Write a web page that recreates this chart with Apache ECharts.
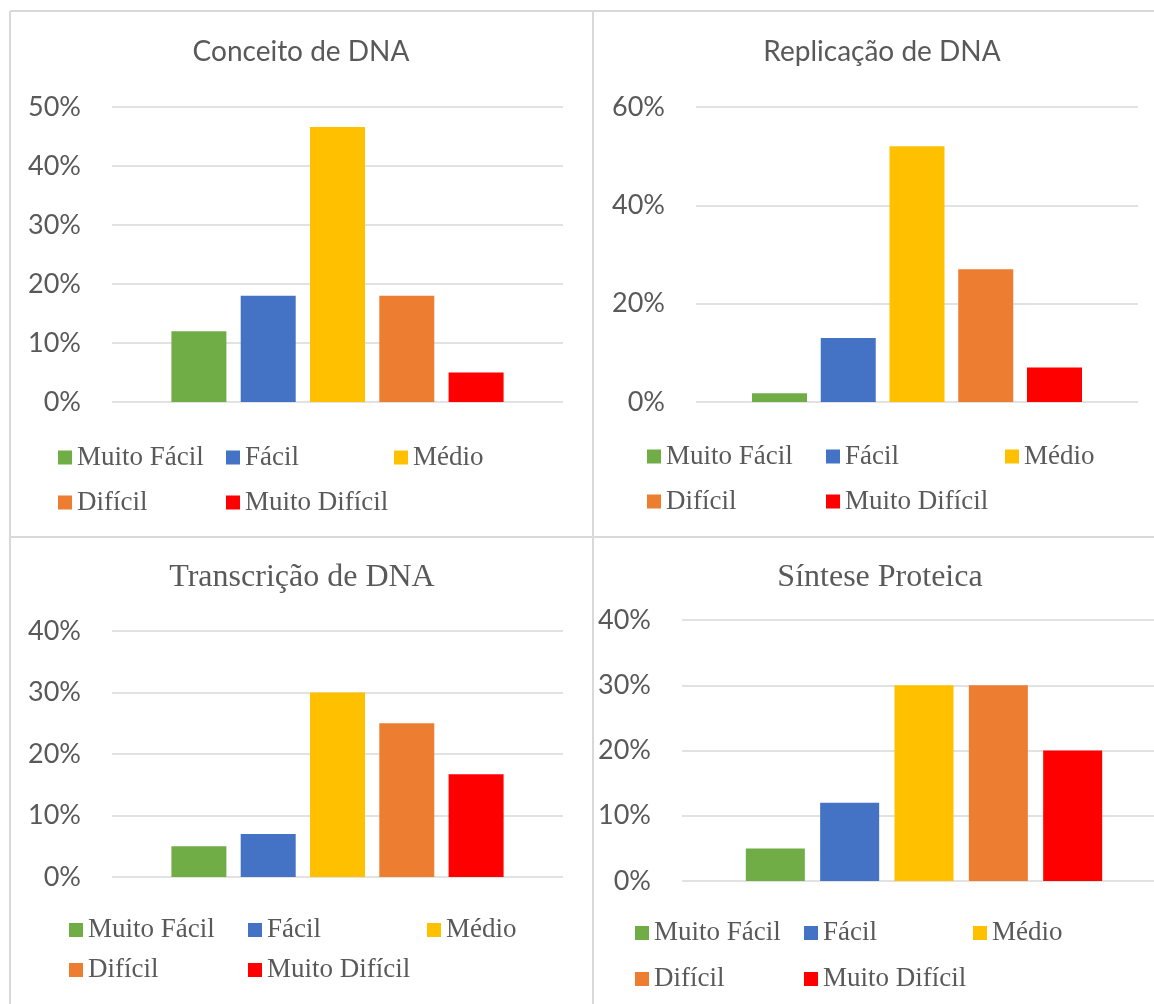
<!DOCTYPE html>
<html>
<head>
<meta charset="utf-8">
<script src="https://cdn.jsdelivr.net/npm/echarts@6/dist/echarts.min.js"></script>
<style>
  html, body { margin: 0; padding: 0; background: #fff; }
  #chart { width: 1154px; height: 1004px; }
</style>
</head>
<body>
<div id="chart"></div>
<script>
// niveis de dificuldade (legenda)
const levels = ['Muito Fácil', 'Fácil', 'Médio', 'Difícil', 'Muito Difícil'];
const levelColors = ['#70ad47', '#4472c4', '#ffc000', '#ed7d31', '#ff0000'];

const titles = ['Conceito de DNA', 'Replicação de DNA', 'Transcrição de DNA', 'Síntese Proteica'];

const conceito = [0.12, 0.18, 0.466, 0.18, 0.05];
const replicacao = [0.018, 0.13, 0.52, 0.27, 0.07];
const transcricao = [0.05, 0.07, 0.30, 0.25, 0.167];
const sintese = [0.05, 0.12, 0.30, 0.30, 0.20];

const yMax = [0.5, 0.6, 0.4, 0.4];
const yStep = [0.1, 0.2, 0.1, 0.1];

const panelData = [conceito, replicacao, transcricao, sintese];

const sans = 'Lato';
const serif = 'Liberation Serif';
const grey = '#595959';

// layout de cada painel
const panels = [
  { grid: { left: 112, right: 591, top: 107, bottom: 602 }, barWidth: 55, barGap: '26%',
    title: { x: 301, top: 38, font: sans, size: 28 },
    legend: { left: 58, top: 440, w: 139, lh: 35 } },
  { grid: { left: 696, right: 16, top: 107, bottom: 602 }, barWidth: 55, barGap: '25%',
    title: { x: 882, top: 38, font: sans, size: 28 },
    legend: { left: 647, top: 439, w: 150, lh: 35 } },
  { grid: { left: 112, right: 591, top: 631, bottom: 127 }, barWidth: 55, barGap: '26%',
    title: { x: 302, top: 562, font: serif, size: 32 },
    legend: { left: 69, top: 915, w: 150, lh: 30 } },
  { grid: { left: 682, right: -12, top: 620, bottom: 123 }, barWidth: 59, barGap: '26%',
    title: { x: 880, top: 562, font: serif, size: 32 },
    legend: { left: 635, top: 915, w: 140, lh: 36 } }
];

const chart = echarts.init(document.getElementById('chart'));

const option = {
  animation: false,
  title: [],
  legend: [],
  grid: [],
  xAxis: [],
  yAxis: [],
  series: [],
  graphic: [
    { type: 'line', shape: { x1: 10, y1: 11, x2: 10, y2: 1004 }, style: { stroke: '#d9d9d9', lineWidth: 2 } },
    { type: 'line', shape: { x1: 10, y1: 11, x2: 1154, y2: 11 }, style: { stroke: '#d9d9d9', lineWidth: 2 } },
    { type: 'line', shape: { x1: 593, y1: 11, x2: 593, y2: 1004 }, style: { stroke: '#d9d9d9', lineWidth: 2 } },
    { type: 'line', shape: { x1: 10, y1: 537, x2: 1154, y2: 537 }, style: { stroke: '#d9d9d9', lineWidth: 2 } }
  ]
};

panels.forEach((p, i) => {
  option.title.push({
    text: titles[i],
    left: p.title.x,
    top: p.title.top,
    textAlign: 'center',
    padding: 0,
    textStyle: { fontFamily: p.title.font, fontSize: p.title.size, fontWeight: 'normal', color: grey, lineHeight: p.title.size }
  });
  option.grid.push(Object.assign({ containLabel: false, outerBoundsMode: 'none' }, p.grid));
  option.xAxis.push({
    type: 'category',
    gridIndex: i,
    data: [''],
    axisLine: { show: false },
    axisTick: { show: false },
    axisLabel: { show: false }
  });
  option.yAxis.push({
    type: 'value',
    gridIndex: i,
    min: 0,
    max: yMax[i],
    interval: yStep[i],
    axisLine: { show: false },
    axisTick: { show: false },
    axisLabel: {
      margin: 31,
      fontFamily: sans,
      fontSize: 27,
      color: grey,
      formatter: v => Math.round(v * 100) + '%'
    },
    splitLine: { lineStyle: { color: '#d9d9d9', width: 1.5 } }
  });
  levels.forEach((name, k) => {
    option.series.push({
      type: 'bar',
      name: name,
      xAxisIndex: i,
      yAxisIndex: i,
      barWidth: p.barWidth,
      barGap: p.barGap,
      itemStyle: { color: levelColors[k] },
      data: [panelData[i][k]]
    });
  });
  option.legend.push({
    data: levels,
    left: p.legend.left,
    top: p.legend.top,
    width: 3 * (19 + p.legend.w) + 2 * 10 + 4,
    padding: 0,
    itemGap: 10,
    itemWidth: 14,
    itemHeight: 14,
    icon: 'rect',
    selectedMode: false,
    textStyle: {
      fontFamily: serif,
      fontSize: 27,
      color: grey,
      width: p.legend.w,
      lineHeight: p.legend.lh
    }
  });
});

chart.setOption(option);
</script>
</body>
</html>
